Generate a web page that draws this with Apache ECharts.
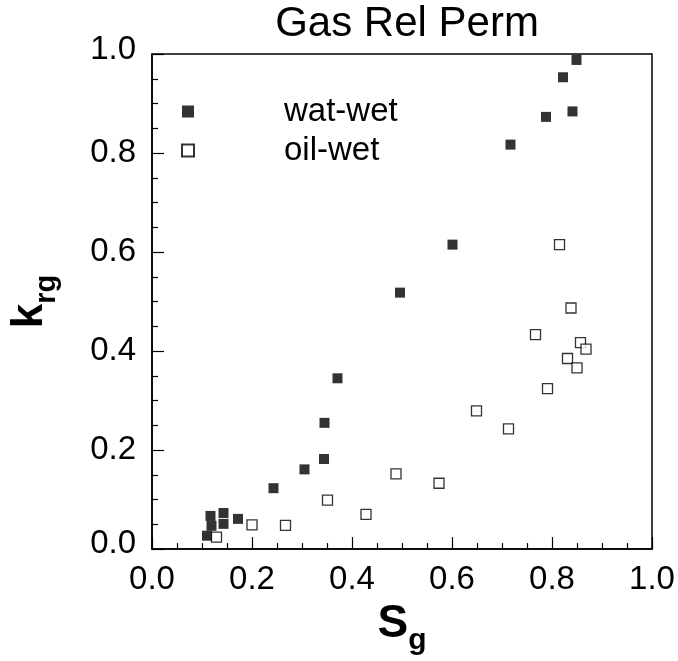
<!DOCTYPE html>
<html>
<head>
<meta charset="utf-8">
<script src="https://cdn.jsdelivr.net/npm/echarts@6/dist/echarts.min.js"></script>
<style>html,body{margin:0;padding:0;background:#fff}#c{width:678px;height:661px}</style>
</head>
<body>
<div id="c"></div>
<script>
const titleText = 'Gas Rel Perm';
const seriesNames = ['wat-wet', 'oil-wet'];
const watWetSg  = [0.110,0.117,0.119,0.143,0.143,0.172,0.243,0.305,0.344,0.345,0.371,0.496,0.601,0.717,0.788,0.822,0.841,0.849];
const watWetKrg = [0.027,0.067,0.047,0.073,0.051,0.061,0.123,0.161,0.182,0.255,0.345,0.518,0.615,0.817,0.873,0.953,0.884,0.988];
const oilWetSg  = [0.129,0.200,0.267,0.351,0.428,0.488,0.574,0.649,0.713,0.767,0.791,0.815,0.831,0.838,0.850,0.857,0.868];
const oilWetKrg = [0.024,0.049,0.048,0.099,0.070,0.152,0.133,0.279,0.243,0.433,0.324,0.615,0.385,0.487,0.366,0.417,0.404];
const axisMin = 0.0, axisMax = 1.0, axisStep = 0.2;

const FONT = 'Liberation Sans, Arial, sans-serif';
const pair = (xs, ys) => xs.map((x, i) => [x, ys[i]]);
const LABEL_SIZE = 33;

const axisCommon = {
  type: 'value', min: axisMin, max: axisMax, interval: axisStep,
  axisLine: { show: true, lineStyle: { color: '#000', width: 1.5 } },
  axisTick: { show: true, inside: true, length: 12, lineStyle: { color: '#000', width: 1.2 } },
  minorTick: { show: true, splitNumber: 4, length: 6, lineStyle: { color: '#000', width: 1.2 } },
  splitLine: { show: false }
};

const chart = echarts.init(document.getElementById('c'), null, { renderer: 'canvas' });
chart.setOption({
  backgroundColor: '#fff',
  animation: false,
  title: {
    text: titleText, left: 402, top: -2, textAlign: 'center',
    textStyle: { color: '#000', fontFamily: FONT, fontSize: 42, fontWeight: 'normal' }
  },
  grid: { left: 152, top: 54, width: 500, height: 500, show: true, borderColor: '#000', borderWidth: 1.5, backgroundColor: 'transparent' },
  legend: {
    orient: 'vertical', left: 176, top: 90, itemGap: 6, itemWidth: 12, itemHeight: 12,
    data: [
      { name: seriesNames[0], icon: 'rect' },
      { name: seriesNames[1], icon: 'rect' }
    ],
    textStyle: { color: '#000', fontFamily: FONT, fontSize: 33, lineHeight: 28, padding: [0, 0, 0, 85] }
  },
  xAxis: Object.assign({}, axisCommon, {
    axisLabel: { color: '#000', fontFamily: FONT, fontSize: LABEL_SIZE, formatter: v => v.toFixed(1), margin: 14 },
    name: '{s|S}{g|g}', nameLocation: 'middle', nameGap: 42,
    nameTextStyle: {
      rich: {
        s: { fontFamily: FONT, fontSize: 46, fontWeight: 'bold', color: '#000', lineHeight: 46, verticalAlign: 'top' },
        g: { fontFamily: FONT, fontSize: 30, fontWeight: 'bold', color: '#000', lineHeight: 30, verticalAlign: 'top', padding: [25, 0, 0, 0] }
      }
    }
  }),
  yAxis: Object.assign({}, axisCommon, {
    axisLabel: {
      color: '#000', fontFamily: FONT, fontSize: LABEL_SIZE, margin: 16,
      formatter: v => v === axisMax ? '{hi|' + v.toFixed(1) + '}' : (v === axisMin ? '{lo|' + v.toFixed(1) + '}' : v.toFixed(1)),
      rich: {
        hi: { fontFamily: FONT, fontSize: LABEL_SIZE, color: '#000', padding: [0, 0, 8, 0] },
        lo: { fontFamily: FONT, fontSize: LABEL_SIZE, color: '#000', padding: [0, 0, 11, 0] }
      }
    },
    name: '{k|k}{r|rg}', nameLocation: 'middle', nameGap: 100, nameRotate: 90,
    nameTextStyle: {
      rich: {
        k: { fontFamily: FONT, fontSize: 44, fontWeight: 'bold', color: '#000', lineHeight: 44, verticalAlign: 'top' },
        r: { fontFamily: FONT, fontSize: 29, fontWeight: 'bold', color: '#000', lineHeight: 29, verticalAlign: 'top', padding: [24, 0, 0, 0] }
      }
    }
  }),
  series: [
    {
      name: seriesNames[0], type: 'scatter', symbol: 'rect', symbolSize: 10,
      itemStyle: { color: '#000' },
      data: pair(watWetSg, watWetKrg)
    },
    {
      name: seriesNames[1], type: 'scatter', symbol: 'rect', symbolSize: 10,
      itemStyle: { color: '#fff', borderColor: '#000', borderWidth: 1.3 },
      data: pair(oilWetSg, oilWetKrg)
    }
  ]
});
</script>
</body>
</html>
